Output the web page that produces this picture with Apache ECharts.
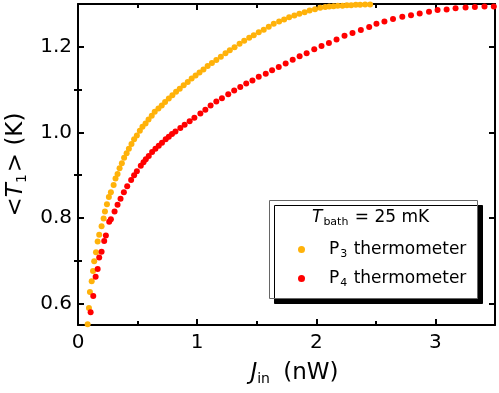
<!DOCTYPE html>
<html>
<head>
<meta charset="utf-8">
<script src="https://cdn.jsdelivr.net/npm/echarts@6/dist/echarts.min.js"></script>
<style>html,body{margin:0;padding:0;background:#fff}#c{width:499px;height:393px}</style>
</head>
<body>
<div id="c"></div>
<script>
// P3 thermometer: J_in (nW), <T1> (K)
const p3J = [0.081,0.092,0.100,0.115,0.126,0.136,0.151,0.165,0.178,0.198,0.215,0.226,0.243,0.259,0.276,0.299,0.315,0.332,0.349,0.368,0.387,0.408,0.427,0.449,0.471,0.494,0.519,0.541,0.567,0.592,0.619,0.644,0.675,0.703,0.731,0.762,0.792,0.823,0.854,0.887,0.921,0.954,0.987,1.020,1.053,1.088,1.124,1.161,1.199,1.238,1.274,1.314,1.356,1.395,1.437,1.475,1.517,1.559,1.601,1.643,1.688,1.730,1.772,1.816,1.858,1.902,1.944,1.989,2.033,2.075,2.109,2.145,2.180,2.220,2.257,2.293,2.332,2.368,2.410,2.452];
const p3T = [0.552,0.590,0.627,0.652,0.676,0.699,0.720,0.745,0.761,0.781,0.799,0.815,0.832,0.849,0.860,0.877,0.892,0.903,0.916,0.928,0.941,0.951,0.962,0.973,0.984,0.993,1.004,1.013,1.021,1.030,1.039,1.048,1.056,1.063,1.071,1.079,1.087,1.095,1.102,1.110,1.118,1.126,1.133,1.140,1.147,1.155,1.162,1.169,1.177,1.185,1.192,1.199,1.207,1.214,1.221,1.227,1.234,1.240,1.247,1.254,1.259,1.264,1.269,1.273,1.277,1.281,1.285,1.288,1.291,1.293,1.294,1.295,1.296,1.296,1.297,1.297,1.298,1.298,1.299,1.299];
// P4 thermometer
const p4J = [0.106,0.128,0.148,0.165,0.178,0.198,0.220,0.234,0.262,0.276,0.307,0.332,0.357,0.385,0.413,0.446,0.471,0.494,0.527,0.550,0.569,0.594,0.622,0.650,0.678,0.705,0.736,0.762,0.789,0.818,0.859,0.895,0.937,0.977,1.027,1.069,1.113,1.161,1.208,1.261,1.311,1.362,1.412,1.464,1.517,1.576,1.629,1.685,1.743,1.802,1.860,1.919,1.983,2.044,2.106,2.170,2.237,2.304,2.374,2.444,2.505,2.572,2.644,2.722,2.795,2.868,2.946,3.018,3.094,3.169,3.253,3.331,3.412,3.490];
const p4T = [0.580,0.618,0.663,0.681,0.708,0.721,0.746,0.759,0.791,0.797,0.815,0.831,0.845,0.860,0.874,0.889,0.900,0.909,0.922,0.930,0.937,0.945,0.954,0.962,0.969,0.976,0.984,0.990,0.996,1.002,1.010,1.018,1.026,1.034,1.044,1.053,1.063,1.072,1.080,1.089,1.098,1.106,1.114,1.121,1.130,1.137,1.145,1.153,1.161,1.170,1.178,1.185,1.194,1.202,1.209,1.217,1.226,1.232,1.239,1.246,1.254,1.259,1.265,1.270,1.274,1.278,1.282,1.286,1.287,1.290,1.292,1.293,1.294,1.294];

const xTicks = [0, 1, 2, 3];
const yTicksMajor = [0.6, 0.8, 1.0, 1.2];
const yTicksMinor = [0.7, 0.9, 1.1];
const yTickLabels = ['0.6', '0.8', '1.0', '1.2'];
const seriesNames = ['P3', 'P4'];

const FONT = '"DejaVu Sans", sans-serif';
const zip = (a, b) => a.map((v, i) => [v, b[i]]);

const chart = echarts.init(document.getElementById('c'), null, {renderer: 'canvas'});

const xRange = {min: 0, max: 3.5};
const yRange = {min: 0.55, max: 1.3};
const axisLine = {show: true, onZero: false, lineStyle: {color: '#000', width: 2}};

function yAxisDef(pos, ticks, len, showLine, labels) {
  return Object.assign({
    type: 'value', gridIndex: 0, position: pos,
    axisLine: showLine ? axisLine : {show: false},
    axisTick: {show: true, inside: true, length: len, customValues: ticks, lineStyle: {color: '#000', width: 2}},
    axisLabel: labels ? {
      show: true, customValues: ticks, margin: 6, color: '#000', fontSize: 20, fontFamily: FONT,
      formatter: v => yTickLabels[yTicksMajor.findIndex(t => Math.abs(t - v) < 1e-6)]
    } : {show: false},
    splitLine: {show: false}
  }, yRange);
}

const yAxes = [
  yAxisDef('left', yTicksMajor, 6, true, true),
  yAxisDef('left', yTicksMinor, 4, false, false),
  yAxisDef('right', yTicksMajor, 6, true, false),
  yAxisDef('right', yTicksMinor, 4, false, false)
];
yAxes[0].name = '<{i|T}{s|1}> (K)';
yAxes[0].nameLocation = 'middle';
yAxes[0].nameRotate = 90;
yAxes[0].nameGap = 47;
yAxes[0].nameTextStyle = {
  fontSize: 23, color: '#000', fontFamily: FONT,
  rich: {
    i: {fontSize: 23, fontStyle: 'italic', fontFamily: FONT, color: '#000'},
    s: {fontSize: 14, fontFamily: FONT, color: '#000', padding: [12, 2, 0, 0]}
  }
};

option = {
  animation: false,
  backgroundColor: '#fff',
  grid: {left: 78, right: 4, top: 4, bottom: 68, containLabel: false, outerBoundsMode: 'none'},
  xAxis: [
    Object.assign({
      type: 'value', position: 'bottom', interval: 1,
      axisLine: axisLine,
      axisTick: {show: true, inside: true, length: 6, lineStyle: {color: '#000', width: 2}},
      minorTick: {show: true, splitNumber: 2, length: 4, lineStyle: {color: '#000', width: 2}},
      axisLabel: {show: true, margin: 8, color: '#000', fontSize: 20, fontFamily: FONT,
        formatter: v => (xTicks.indexOf(v) >= 0 ? String(v) : '')},
      splitLine: {show: false}, minorSplitLine: {show: false},
      name: '{i|J}{s|in} (nW)', nameLocation: 'middle', nameGap: 35,
      nameTextStyle: {
        fontSize: 23, color: '#000', fontFamily: FONT, padding: [0, 0, 0, 16],
        rich: {
          i: {fontSize: 23, fontStyle: 'italic', fontFamily: FONT, color: '#000'},
          s: {fontSize: 14, fontFamily: FONT, color: '#000', padding: [12, 6, 0, 0]}
        }
      }
    }, xRange),
    Object.assign({
      type: 'value', position: 'top', interval: 1,
      axisLine: axisLine,
      axisTick: {show: true, inside: true, length: 6, lineStyle: {color: '#000', width: 2}},
      minorTick: {show: true, splitNumber: 2, length: 4, lineStyle: {color: '#000', width: 2}},
      axisLabel: {show: false}, splitLine: {show: false}
    }, xRange)
  ],
  yAxis: yAxes,
  legend: {
    orient: 'vertical', left: 298, top: 241, padding: 0,
    itemWidth: 7, itemHeight: 7, itemGap: 10,
    icon: 'circle',
    data: seriesNames,
    formatter: n => '{m|' + n.charAt(0) + '}{s|' + n.slice(1) + '}{m| thermometer}',
    textStyle: {
      fontSize: 17, color: '#000', fontFamily: FONT, padding: [0, 0, 0, 19],
      rich: {
        m: {fontSize: 17, fontFamily: FONT, color: '#000'},
        s: {fontSize: 11, fontFamily: FONT, color: '#000', padding: [10, 1, 0, 1]}
      }
    },
    z: 20
  },
  graphic: [
    {
      type: 'rect', z: 10, silent: true,
      shape: {x: 269.5, y: 200.5, width: 208, height: 98},
      style: {fill: '#fff', stroke: '#666', lineWidth: 1, shadowBlur: 0, shadowOffsetX: 5, shadowOffsetY: 5, shadowColor: '#000'}
    },
    {
      type: 'text', z: 11, silent: true, left: 312, top: 209,
      style: {
        text: '{i|T}{s|bath}{m| = 25 mK}',
        fill: '#000', font: '17px ' + FONT,
        rich: {
          i: {fontSize: 17, fontStyle: 'italic', fontFamily: FONT, fill: '#000'},
          m: {fontSize: 17, fontFamily: FONT, fill: '#000'},
          s: {fontSize: 11, fontFamily: FONT, fill: '#000', padding: [10, 1, 0, 1]}
        }
      }
    }
  ],
  series: [
    {
      name: seriesNames[0], type: 'scatter', xAxisIndex: 0, yAxisIndex: 0,
      symbol: 'circle', symbolSize: 6, clip: true,
      itemStyle: {color: '#FFB20A', opacity: 1},
      data: zip(p3J, p3T)
    },
    {
      name: seriesNames[1], type: 'scatter', xAxisIndex: 0, yAxisIndex: 0,
      symbol: 'circle', symbolSize: 6, clip: true,
      itemStyle: {color: '#FF0000', opacity: 1},
      data: zip(p4J, p4T)
    }
  ]
};
chart.setOption(option);
</script>
</body>
</html>
